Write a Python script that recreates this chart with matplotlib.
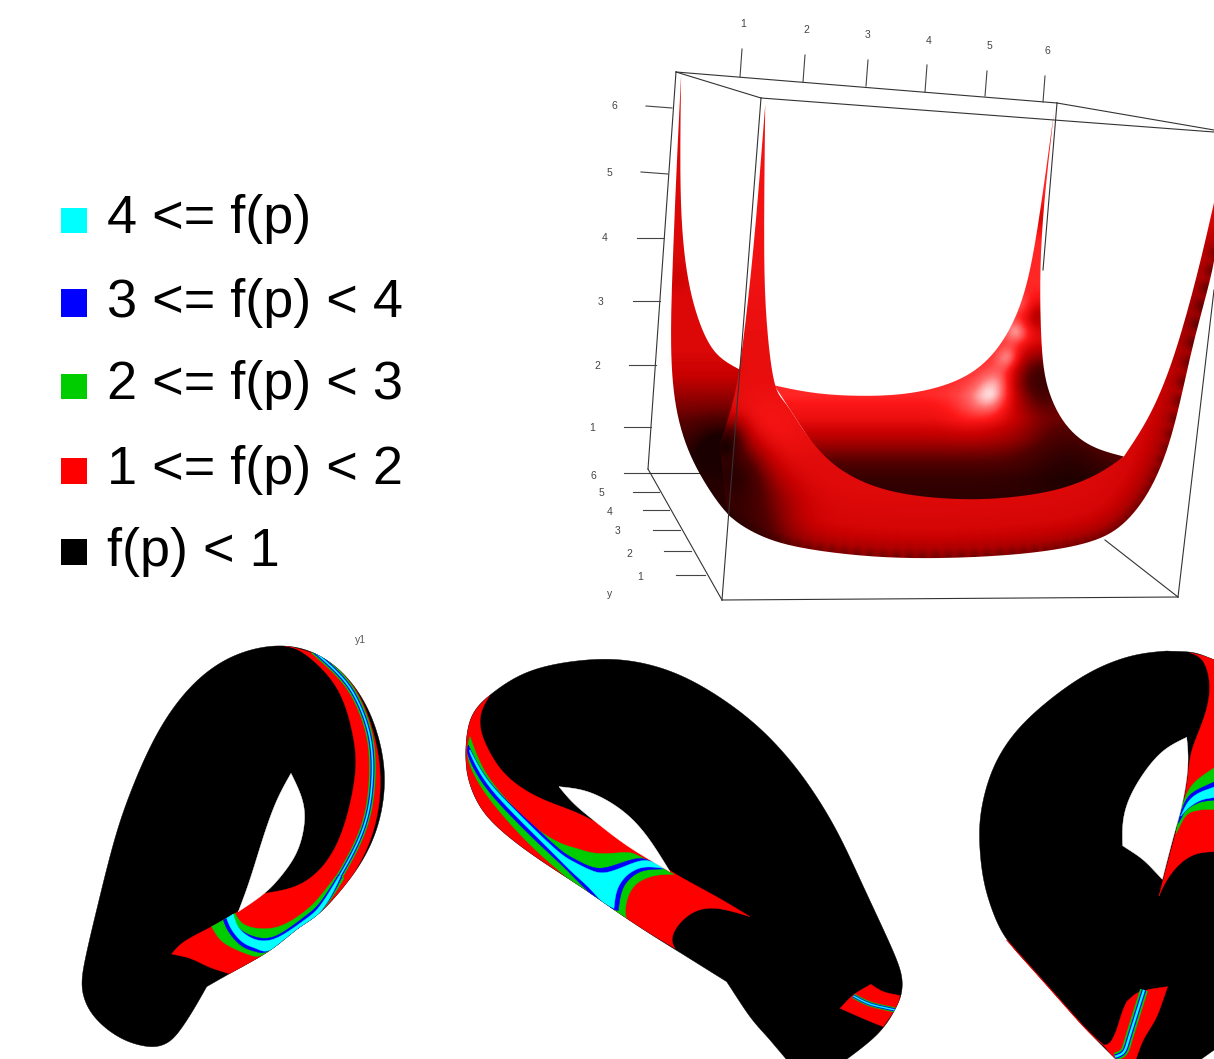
import numpy as np
import matplotlib
matplotlib.use("Agg")
import matplotlib.pyplot as plt
from matplotlib.path import Path
from matplotlib.patches import PathPatch, Rectangle
from matplotlib.colors import LinearSegmentedColormap

# ---------- legend ----------
legend_labels = ["4 <= f(p)", "3 <= f(p) < 4", "2 <= f(p) < 3", "1 <= f(p) < 2", "f(p) < 1"]
legend_colors = ["#00ffff", "#0000ff", "#00cd00", "#ff0000", "#000000"]
legend_boxes = [(208, 233), (289, 317), (374, 399), (458, 484), (539, 565)]
legend_base = [233, 317, 399, 484, 566]

# ---------- axis ticks of the 3D box ----------
x_tick_labels = ["1", "2", "3", "4", "5", "6"]
x_ticks = [(740, 77, 742, 49), (803, 82, 805, 55), (866, 86, 868, 60), (925, 92, 927, 65), (985, 96, 987, 71), (1043, 102, 1045, 76)]
x_label_pos = [(743, 24), (806, 30), (868, 35), (929, 41), (989, 46), (1047, 51)]
z_tick_labels = ["6", "5", "4", "3", "2", "1"]
z_ticks = [(646, 106, 672, 108), (641, 172, 668, 174), (637, 238, 664, 238), (633, 301, 660, 301), (629, 365, 656, 365), (624, 427, 651, 427)]
z_label_pos = [(614, 106), (609, 173), (605, 238), (601, 302), (597, 366), (592, 428)]
y_tick_labels = ["6", "5", "4", "3", "2", "1"]
y_ticks = [(624, 473, 648, 473), (633, 492, 659, 492), (643, 510, 669, 510), (653, 530, 680, 530), (664, 551, 691, 551), (676, 575, 705, 575)]
y_label_pos = [(593, 476), (601, 493), (610, 512), (618, 531), (629, 554), (640, 577)]
box_back = [[(676, 72), (1057, 103)], [(676, 72), (648, 469)], [(648, 469), (722, 600)], [(648, 473), (700, 473)], [(1057, 103), (1043, 270)], [(1105, 540), (1178, 597)]]
box_front = [[(676, 72), (761, 98)], [(761, 98), (1214, 132)], [(1057, 103), (1214, 130)], [(761, 98), (722, 600)], [(722, 600), (1178, 597)], [(1178, 597), (1214, 290)]]

# ---------- surface outlines (crop coordinates) ----------
wall_left = [(250, 190), (240, 400), (228, 700), (225, 900), (240, 1050), (280, 1170), (340, 1270), (375, 1310), (375, 1310),
             (395, 935), (395, 935), (340, 900), (300, 830), (265, 700), (248, 500), (250, 190)]
interior = [(480, 975), (580, 995), (700, 1002), (820, 995), (930, 965), (1010, 910), (1070, 820), (1110, 700), (1140, 520), (1172, 285), (1172, 285),
            (1140, 600), (1140, 850), (1155, 980), (1200, 1075), (1265, 1130), (1345, 1155), (1345, 1155), (1280, 1210), (1180, 1250), (1050, 1275), (930, 1280),
            (800, 1260), (700, 1230), (620, 1180), (560, 1100), (510, 1020), (480, 975)]
front = [(458, 265), (455, 600), (460, 800), (480, 975), (510, 1020), (560, 1100), (620, 1170), (700, 1220), (800, 1250), (930, 1263), (1050, 1260),
         (1180, 1240), (1280, 1200), (1345, 1155), (1345, 1155), (1410, 1050), (1470, 900), (1530, 680), (1575, 480), (1575, 480), (1575, 640),
         (1520, 850), (1470, 1080), (1420, 1220), (1360, 1310), (1290, 1362), (1180, 1390), (1050, 1405), (900, 1412), (750, 1410), (600, 1395),
         (480, 1370), (400, 1330), (365, 1300), (365, 1300), (345, 1125), (345, 1125), (375, 1030), (395, 930), (420, 720), (440, 500), (458, 265)]
front_bottom = front[20:35]

# shade profiles: (reference value, level); spots: (x, y, sigma, delta) in crop coordinates
wall_profile = [(0, .66), (880, .66), (950, .6), (1050, .36), (1150, .1), (1300, .06)]
wall_spots = [(345, 1130, 40, -.3), (235, 700, 25, -.04)]
interior_profile = [(0, .78), (1000, .78), (1060, .7), (1110, .55), (1160, .34), (1210, .15), (1260, .1), (1300, .09)]
interior_spots = [(1210, 1100, 80, -.3), (1145, 960, 55, -.55), (1135, 800, 28, -.22), (1150, 550, 25, -.14), (1170, 320, 40, -.08),
                  (1040, 960, 30, .12), (1015, 1005, 34, .17), (1060, 905, 22, .18), (1080, 840, 22, .16), (1095, 775, 20, .08), (960, 1040, 40, .06)]
front_profile = [(0, .36), (4, .43), (10, .53), (20, .6), (30, .64), (70, .67), (400, .71)]
front_spots = [(460, 1090, 70, .07), (365, 1100, 32, -.3), (355, 1130, 20, -.2), (370, 1190, 60, -.5), (430, 1300, 70, -.3), (445, 600, 200, .03), (1500, 800, 70, -.05)]

# ---------- knot 1 (crop coordinates, a repeated point is a corner) ----------
k1_outer = [(470, 1070), (430, 1140), (380, 1215), (340, 1245), (290, 1250), (210, 1225), (130, 1160), (95, 1080), (105, 990), (140, 840), (190, 640), (240, 490),
            (320, 310), (420, 170), (540, 80), (680, 45), (800, 70), (900, 150), (970, 270), (1005, 420), (992, 560), (950, 670), (890, 760), (810, 850), (750, 890), (695, 935), (640, 975), (540, 1030), (470, 1070)]
k1_hole = [(723, 430), (755, 500), (765, 570), (745, 660), (700, 730), (645, 790), (565, 845), (565, 845), (600, 750), (640, 620), (680, 510), (723, 430)]
k1_red = [(365, 972), (400, 935), (480, 893), (565, 845), (645, 790), (645, 790), (740, 770), (820, 710), (880, 600), (918, 430), (910, 320), (880, 210), (830, 130), (750, 60), (690, 45), (690, 45),
          (800, 72), (900, 150), (960, 270), (992, 420), (982, 560), (945, 670), (890, 762), (810, 852), (750, 892), (695, 937), (640, 977), (540, 1032), (540, 1032), (480, 1012), (420, 985), (365, 972)]
k1_stripe = [(790, 62), (885, 150), (935, 240), (962, 330), (968, 430), (955, 550), (918, 650), (870, 737)]
k1_green = [(555, 850), (575, 880), (615, 895), (670, 895), (720, 875), (770, 840), (810, 800), (866, 727), (866, 727), (882, 745), (882, 745), (815, 846), (700, 935), (635, 978), (600, 975), (550, 955), (510, 930), (485, 890), (485, 890), (555, 850)]
k1_blue = [(545, 856), (565, 895), (610, 920), (660, 925), (710, 900), (770, 855), (810, 820), (867, 731), (867, 731), (876, 741), (876, 741), (815, 846), (700, 935), (645, 968), (620, 965), (575, 950), (535, 905), (520, 870), (520, 870), (545, 856)]
k1_cyan = [(550, 852), (565, 895), (610, 928), (660, 932), (710, 908), (770, 865), (810, 830), (869, 735), (869, 735), (872, 739), (872, 739), (815, 846), (710, 933), (650, 965), (620, 955), (580, 940), (545, 900), (530, 865), (530, 865), (550, 852)]

# ---------- knot 2 ----------
k2_outer = [(830, 1025), (750, 975), (670, 925), (590, 875), (500, 815), (400, 745), (300, 680), (200, 610), (110, 530), (65, 450), (47, 370), (52, 270), (75, 210), (120, 165), (200, 110),
            (300, 75), (440, 57), (560, 65), (680, 100), (800, 165), (920, 255), (1020, 360), (1100, 470), (1170, 590), (1240, 740), (1310, 890), (1350, 985), (1357, 1040), (1345, 1090),
            (1300, 1165), (1240, 1220), (1180, 1265), (1180, 1265), (1015, 1265), (1015, 1265), (960, 1200), (900, 1130), (830, 1025)]
k2_hole = [(327, 440), (400, 450), (470, 480), (540, 530), (600, 600), (660, 695), (660, 695), (600, 660), (520, 610), (430, 540), (370, 490), (327, 440)]
k2_red = [(120, 165), (95, 210), (90, 260), (110, 320), (160, 400), (240, 460), (320, 495), (430, 540), (590, 645), (680, 705), (800, 770), (900, 830), (900, 830), (800, 803), (730, 815), (680, 860), (665, 900), (675, 925), (675, 925),
          (590, 875), (500, 815), (400, 745), (300, 680), (200, 610), (110, 530), (65, 450), (47, 370), (52, 270), (75, 210), (120, 165)]
k2_patch = [(1262, 1033), (1300, 1055), (1350, 1067), (1350, 1067), (1340, 1100), (1300, 1160), (1300, 1160), (1250, 1140), (1170, 1105), (1170, 1105), (1210, 1065), (1262, 1033)]
k2_patch_stripe = [(1210, 1068), (1260, 1092), (1335, 1110)]
k2_green = [(60, 290), (100, 390), (170, 480), (250, 560), (330, 610), (380, 625), (430, 640), (490, 640), (540, 637), (580, 655), (672, 703), (672, 703), (620, 705), (565, 725), (535, 765), (525, 815), (530, 835), (530, 835),
            (440, 790), (390, 745), (330, 695), (240, 615), (140, 505), (80, 420), (50, 345), (60, 290)]
k2_blue = [(55, 315), (105, 410), (185, 497), (260, 565), (330, 630), (370, 655), (420, 680), (460, 685), (510, 670), (560, 655), (595, 660), (640, 687), (640, 687), (585, 690), (545, 710), (515, 750), (505, 812), (505, 812),
           (480, 805), (450, 790), (410, 750), (370, 710), (330, 670), (260, 605), (180, 525), (100, 435), (52, 345), (55, 315)]
k2_cyan = [(60, 330), (110, 420), (190, 505), (260, 575), (330, 640), (370, 665), (420, 690), (460, 700), (510, 685), (560, 665), (600, 662), (640, 685), (640, 685), (580, 680), (530, 705), (500, 750), (492, 805), (492, 805),
           (455, 785), (420, 745), (370, 700), (330, 660), (265, 595), (185, 515), (105, 425), (60, 340), (60, 330)]

# ---------- knot 3 ----------
k3_outer = [(620, 33), (520, 45), (400, 90), (280, 170), (170, 270), (100, 380), (65, 500), (58, 600), (70, 720), (100, 820), (140, 900), (220, 990), (300, 1080), (380, 1170), (470, 1260), (470, 1260),
            (720, 1260), (720, 1260), (765, 1228), (765, 1228), (765, 60), (765, 60), (700, 38), (620, 33)]
k3_hole = [(680, 292), (610, 330), (550, 400), (505, 480), (488, 550), (488, 617), (488, 617), (550, 660), (607, 718), (607, 718), (640, 590), (670, 480), (685, 370), (680, 292)]
k3_red = [(690, 38), (730, 60), (750, 130), (740, 210), (710, 290), (690, 350), (680, 440), (660, 530), (625, 660), (597, 768), (597, 768), (620, 720), (660, 670), (710, 640), (765, 635), (765, 635), (765, 55), (765, 55), (690, 38)]
k3_green = [(765, 382), (710, 420), (680, 460), (660, 520), (648, 580), (648, 580), (680, 525), (720, 510), (765, 508), (765, 508), (765, 382)]
k3_blue = [(765, 425), (710, 450), (680, 475), (660, 525), (655, 550), (655, 550), (680, 510), (720, 487), (765, 480), (765, 480), (765, 425)]
k3_cyan = [(765, 440), (715, 460), (685, 485), (662, 528), (662, 528), (690, 500), (725, 480), (765, 472), (765, 472), (765, 440)]
k3_low_red = [(500, 1085), (530, 1060), (570, 1048), (623, 1040), (623, 1040), (590, 1130), (550, 1200), (525, 1265), (525, 1265), (475, 1265), (430, 1215), (430, 1215), (450, 1210), (470, 1170), (485, 1120), (500, 1085)]
k3_low_stripe = [(552, 1050), (530, 1120), (505, 1200), (492, 1238), (465, 1250)]
k3_edge = [(140, 900), (220, 990), (300, 1080), (380, 1170), (430, 1215)]

CROP3D = (580, 0, 2.473, 2.53)
K1 = (50, 630, 3, 3)
K2 = (450, 640, 3, 3)
K3 = (960, 640, 3, 3)
STEPS = 14


def spline(p, n=STEPS):
    p = np.asarray(p, float)
    if len(p) < 3:
        return p
    q = np.vstack([2 * p[0] - p[1], p, 2 * p[-1] - p[-2]])
    out = [p[:1]]
    t = np.linspace(0, 1, n + 1)[1:, None]
    for i in range(1, len(q) - 2):
        a, b, c, d = q[i - 1], q[i], q[i + 1], q[i + 2]
        out.append(.5 * (2 * b + (c - a) * t + (2 * a - 5 * b + 4 * c - d) * t**2 + (3 * b - a - 3 * c + d) * t**3))
    xy = np.vstack(out)
    # light moving average to take out knot wobble, ends stay fixed
    w = STEPS + 1
    if len(xy) > 3 * w:
        k = np.ones(w) / w
        pad = np.vstack([2 * xy[:1] - xy[w // 2:0:-1], xy, 2 * xy[-1:] - xy[-2:-w // 2 - 2:-1]])
        sm = np.column_stack([np.convolve(pad[:, i], k, mode="same") for i in range(2)])
        xy = sm[w // 2: w // 2 + len(xy)]
    return xy


def curve(pts, crop):
    ox, oy, sx, sy = crop
    pieces, cur = [], [pts[0]]
    for a, b in zip(pts, pts[1:]):
        if a == b:
            pieces.append(cur)
            cur = [b]
        else:
            cur.append(b)
    pieces.append(cur)
    xy = np.vstack([spline(c) for c in pieces if len(c) > 1])
    return xy / [sx, sy] + [ox, oy]


def outline(pts, crop):
    return Path(curve(pts, crop), closed=False)


fig = plt.figure(figsize=(12.14, 10.59), dpi=100, facecolor="white")
ax = fig.add_axes([0, 0, 1, 1])
ax.axis("off")
plt.rcParams["font.family"] = ["Liberation Sans", "DejaVu Sans"]


def fill(pts, crop, color, clip=None, z=2):
    p = PathPatch(outline(pts, crop), fc=color, ec=color, lw=0.3, zorder=z)
    ax.add_patch(p)
    if clip is not None:
        p.set_clip_path(clip)
    return p


def stroke(pts, crop, widths, clip=None, z=3):
    xy = curve(pts, crop)
    for i, (w, c) in enumerate(widths):
        l, = ax.plot(xy[:, 0], xy[:, 1], color=c, lw=w * .72, zorder=z + i * .01, solid_capstyle="butt")
        if clip is not None:
            l.set_clip_path(clip)


# legend
for lab, col, (y0, y1), base in zip(legend_labels, legend_colors, legend_boxes, legend_base):
    ax.add_patch(Rectangle((61, y0), 25.5, y1 - y0, fc=col, ec="none"))
    ax.text(107, base, lab, fontsize=39, color="black", va="baseline", ha="left", family="Liberation Sans")

# shaded surface, computed on a coarse grid and smoothed by bilinear drawing
red_map = LinearSegmentedColormap.from_list("shade", [(0, "#1a0000"), (.3, "#520000"), (.6, "#c80000"), (.76, "#ff1818"), (.88, "#ff7070"), (1, "#ffffff")])
X0, X1, Y0, Y1 = 580, 1216, 0, 620
STEP = 3
gx, gy = np.meshgrid(np.arange(X0, X1, STEP) + STEP / 2, np.arange(Y0, Y1, STEP) + STEP / 2)
zx = (gx - CROP3D[0]) * CROP3D[2]
zy = (gy - CROP3D[1]) * CROP3D[3]


def dist_to(pts):
    c = curve(pts, CROP3D)[::3].astype(np.float32)
    d2 = (gx[..., None].astype(np.float32) - c[:, 0]) ** 2 + (gy[..., None].astype(np.float32) - c[:, 1]) ** 2
    return np.sqrt(d2.min(-1))


def shaded(pts, base, profile, spots, z):
    t = np.array(profile, float)
    field = np.interp(base, t[:, 0], t[:, 1])
    for x, y, s, dv in spots:
        field = field + dv * np.exp(-((zx - x) ** 2 + (zy - y) ** 2) / (2 * s * s))
    im = ax.imshow(red_map(np.clip(field, 0, 1)), extent=(X0, X0 + gx.shape[1] * STEP, Y0 + gx.shape[0] * STEP, Y0), zorder=z, interpolation="bilinear", aspect="auto")
    im.set_clip_path(PathPatch(outline(pts, CROP3D), transform=ax.transData))


for (a, b), (c, d) in box_back:
    ax.plot([a, c], [b, d], color="#333333", lw=.8, zorder=1)
shaded(wall_left, zy, wall_profile, wall_spots, 2)
shaded(interior, zy, interior_profile, interior_spots, 2.1)
shaded(front, dist_to(front_bottom), front_profile, front_spots, 2.2)
for (a, b), (c, d) in box_front:
    ax.plot([a, c], [b, d], color="#333333", lw=.8, zorder=3)
for ticks, labs, pos in [(x_ticks, x_tick_labels, x_label_pos), (z_ticks, z_tick_labels, z_label_pos), (y_ticks, y_tick_labels, y_label_pos)]:
    for (a, b, c, d), lab, (tx, ty) in zip(ticks, labs, pos):
        ax.plot([a, c], [b, d], color="#444444", lw=.8, zorder=3)
        ax.text(tx, ty, lab, fontsize=7.5, color="#444444", ha="center", va="center")
ax.text(610, 594, "y", fontsize=7.5, color="#444444", ha="center", va="center")
ax.text(361, 640, "y1", fontsize=7.5, color="#555555", ha="center", va="center")

# knots
BAND = [(6.5, "#00cd00"), (3.8, "#0000ff"), (1.6, "#00ffff")]
WIDE = [(8, "#00cd00"), (4.5, "#0000ff"), (2.2, "#00ffff")]
SMALL = [(5, "#00cd00"), (3, "#0000ff"), (1.4, "#00ffff")]


def knot(crop, outer, hole, red, layers):
    fill(outer, crop, "black", z=2)
    clip = PathPatch(outline(outer, crop), transform=ax.transData)
    fill(red, crop, "#ff0000", clip, 2.1)
    for pts, col in layers:
        fill(pts, crop, col, clip, 2.3 if col == "#00cd00" else 2.4 if col == "#0000ff" else 2.5 if col == "#00ffff" else 2.15)
    fill(hole, crop, "white", z=2.8)
    return clip


c1 = knot(K1, k1_outer, k1_hole, k1_red, [(k1_green, "#00cd00"), (k1_blue, "#0000ff"), (k1_cyan, "#00ffff")])
stroke(k1_stripe, K1, BAND, c1, 2.6)
c2 = knot(K2, k2_outer, k2_hole, k2_red, [(k2_patch, "#ff0000"), (k2_green, "#00cd00"), (k2_blue, "#0000ff"), (k2_cyan, "#00ffff")])
stroke(k2_patch_stripe, K2, SMALL, c2, 2.6)
c3 = knot(K3, k3_outer, k3_hole, k3_red, [(k3_low_red, "#ff0000"), (k3_green, "#00cd00"), (k3_blue, "#0000ff"), (k3_cyan, "#00ffff")])
stroke(k3_low_stripe, K3, WIDE, c3, 2.6)
stroke(k3_edge, K3, [(1, "#ff0000")], None, 2.6)

ax.set_xlim(0, 1214)
ax.set_ylim(1059, 0)
fig.savefig("out.png", dpi=100, facecolor="white")
